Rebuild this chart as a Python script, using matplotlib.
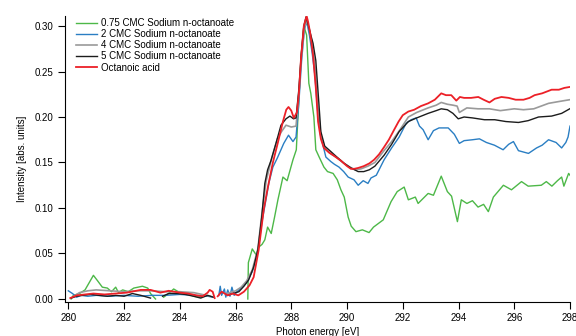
#!/usr/bin/env python3
"""
C K-edge NEXAFS of sodium n-octanoate solutions vs. octanoic acid.
Writes out.png.
"""

import numpy as np
import matplotlib.pyplot as plt

plt.rcParams["font.family"] = ["Liberation Sans", "DejaVu Sans"]
plt.rcParams["font.size"] = 7

nan = np.nan

# 0.75 CMC sodium n-octanoate
e_075 = [280.1, 280.18, 280.4, 280.6, 280.75, 280.9, 281.05, 281.22, 281.4, 281.55,
         281.7, 281.8, 281.95, 282.15, 282.35, 282.66, 282.85, 282.95, 283.13, nan,
         283.42, 283.6, 283.78, 284.0, 284.25, 284.5, 284.75, nan,
         286.44, 286.46, 286.6, 286.75, 286.83, 286.95, 287.05, 287.15, 287.28, 287.4,
         287.52, 287.7, 287.85, 288.06, 288.18, 288.27, 288.35, 288.45, 288.55, 288.63,
         288.7, 288.81, 288.88, 289.0, 289.17, 289.3, 289.5, 289.65, 289.78, 289.9,
         290.04, 290.15, 290.32, 290.55, 290.79, 290.95, 291.3, 291.58, 291.8, 292.05,
         292.2, 292.45, 292.55, 292.91, 293.1, 293.38, 293.6, 293.75, 293.96, 294.1,
         294.3, 294.5, 294.7, 294.9, 295.07, 295.25, 295.61, 295.9, 296.26, 296.5,
         296.97, 297.15, 297.35, 297.55, 297.7, 297.78, 297.95, 298.05]
i_075 = [0.000, 0.004, 0.006, 0.010, 0.018, 0.026, 0.020, 0.013, 0.012, 0.008,
         0.013, 0.007, 0.010, 0.008, 0.012, 0.014, 0.012, 0.006, 0.000, nan,
         0.002, 0.006, 0.011, 0.007, 0.006, 0.003, 0.002, nan,
         0.000, 0.040, 0.055, 0.048, 0.057, 0.060, 0.065, 0.079, 0.072, 0.090,
         0.109, 0.134, 0.130, 0.153, 0.164, 0.219, 0.265, 0.300, 0.290, 0.237,
         0.226, 0.200, 0.164, 0.156, 0.145, 0.140, 0.138, 0.131, 0.120, 0.112,
         0.090, 0.080, 0.074, 0.076, 0.073, 0.079, 0.087, 0.107, 0.118, 0.123,
         0.109, 0.112, 0.105, 0.116, 0.114, 0.135, 0.118, 0.113, 0.085, 0.109,
         0.105, 0.108, 0.101, 0.104, 0.096, 0.112, 0.125, 0.120, 0.129, 0.124,
         0.125, 0.129, 0.124, 0.130, 0.134, 0.124, 0.138, 0.134]

# 2 CMC sodium n-octanoate
e_2 = [280.0, 280.15, 280.3, 280.45, 280.7, 281.0, 281.5, 282.0, 282.5, 283.0,
       283.5, 284.0, 284.5, 285.0, 285.2, nan, 285.4, 285.45, 285.5, 285.6,
       285.65, 285.72, 285.8, 285.87, 285.95, 286.05, 286.2, 286.4, 286.6, 286.8,
       286.95, 287.09, 287.2, 287.34, 287.5, 287.73, 287.9, 288.06, 288.17, 288.27,
       288.37, 288.47, 288.55, 288.65, 288.75, 288.85, 288.95, 289.05, 289.24, 289.42,
       289.55, 289.71, 289.88, 290.04, 290.25, 290.4, 290.58, 290.75, 290.86, 291.05,
       291.33, 291.6, 291.87, 292.12, 292.3, 292.48, 292.6, 292.73, 292.91, 293.1,
       293.3, 293.63, 293.85, 294.03, 294.2, 294.5, 294.75, 295.0, 295.29, 295.6,
       295.8, 295.97, 296.15, 296.51, 296.8, 297.0, 297.23, 297.5, 297.7, 297.85,
       297.93, 298.0]
i_2 = [0.009, 0.006, 0.002, 0.004, 0.003, 0.004, 0.003, 0.004, 0.003, 0.004,
       0.004, 0.005, 0.004, 0.003, 0.002, nan, 0.004, 0.014, 0.004, 0.011,
       0.002, 0.010, 0.003, 0.013, 0.004, 0.008, 0.012, 0.018, 0.030, 0.052,
       0.085, 0.109, 0.128, 0.145, 0.155, 0.171, 0.180, 0.173, 0.178, 0.215,
       0.262, 0.296, 0.305, 0.290, 0.270, 0.245, 0.205, 0.180, 0.156, 0.151,
       0.148, 0.145, 0.140, 0.134, 0.131, 0.125, 0.130, 0.127, 0.133, 0.136,
       0.153, 0.166, 0.178, 0.193, 0.197, 0.199, 0.190, 0.186, 0.175, 0.185,
       0.188, 0.188, 0.181, 0.171, 0.174, 0.175, 0.176, 0.172, 0.169, 0.164,
       0.170, 0.173, 0.163, 0.160, 0.166, 0.169, 0.175, 0.172, 0.166, 0.172,
       0.178, 0.190]

# 4 CMC sodium n-octanoate
e_4 = [280.2, 280.4, 280.7, 281.0, 281.5, 282.0, 282.5, 283.0, 283.5, 284.0,
       284.5, 284.8, 285.1, nan, 285.7, 286.0, 286.2, 286.4, 286.6, 286.8,
       286.95, 287.1, 287.3, 287.5, 287.65, 287.81, 288.0, 288.17, 288.27, 288.37,
       288.47, 288.55, 288.65, 288.75, 288.85, 288.95, 289.06, 289.2, 289.4, 289.6,
       289.85, 290.1, 290.3, 290.5, 290.75, 291.0, 291.3, 291.6, 291.9, 292.2,
       292.5, 292.91, 293.2, 293.38, 293.6, 293.8, 293.95, 294.03, 294.3, 294.7,
       295.11, 295.5, 296.0, 296.33, 296.7, 297.23, 297.6, 297.99]
i_4 = [0.003, 0.007, 0.009, 0.010, 0.009, 0.008, 0.009, 0.009, 0.008, 0.008,
       0.007, 0.005, 0.003, nan, 0.006, 0.009, 0.013, 0.020, 0.032, 0.055,
       0.095, 0.130, 0.155, 0.176, 0.184, 0.191, 0.189, 0.190, 0.225, 0.268,
       0.298, 0.306, 0.296, 0.280, 0.255, 0.212, 0.180, 0.166, 0.160, 0.156,
       0.150, 0.145, 0.142, 0.143, 0.146, 0.150, 0.162, 0.173, 0.186, 0.200,
       0.205, 0.210, 0.213, 0.216, 0.214, 0.213, 0.212, 0.205, 0.210, 0.209,
       0.209, 0.207, 0.209, 0.208, 0.209, 0.215, 0.217, 0.219]

# 5 CMC sodium n-octanoate
e_5 = [280.1, 280.3, 280.5, 280.8, 281.1, 281.4, 281.7, 282.0, 282.3, 282.6,
       282.95, nan, 283.38, 283.6, 283.9, 284.2, 284.5, 284.75, 285.0, 285.2,
       nan, 285.72, 285.9, 286.12, 286.3, 286.47, 286.65, 286.8, 286.94, 287.05,
       287.15, 287.27, 287.45, 287.63, 287.81, 287.95, 288.08, 288.17, 288.27, 288.36,
       288.45, 288.53, 288.6, 288.7, 288.78, 288.88, 288.99, 289.06, 289.2, 289.42,
       289.6, 289.9, 290.14, 290.4, 290.6, 290.8, 291.0, 291.33, 291.6, 291.87,
       292.2, 292.5, 292.91, 293.2, 293.38, 293.6, 293.8, 293.99, 294.2, 294.5,
       294.93, 295.3, 295.7, 296.15, 296.5, 296.87, 297.34, 297.7, 297.99]
i_5 = [0.001, 0.003, 0.004, 0.005, 0.004, 0.003, 0.004, 0.003, 0.006, 0.004,
       0.001, nan, 0.003, 0.006, 0.006, 0.005, 0.003, 0.001, 0.004, 0.002,
       nan, 0.004, 0.006, 0.008, 0.014, 0.021, 0.035, 0.054, 0.090, 0.127,
       0.142, 0.152, 0.171, 0.191, 0.198, 0.201, 0.198, 0.199, 0.230, 0.270,
       0.300, 0.310, 0.302, 0.290, 0.281, 0.262, 0.215, 0.184, 0.168, 0.162,
       0.157, 0.149, 0.144, 0.140, 0.140, 0.142, 0.146, 0.158, 0.170, 0.184,
       0.195, 0.199, 0.204, 0.207, 0.209, 0.208, 0.204, 0.198, 0.200, 0.199,
       0.197, 0.197, 0.195, 0.194, 0.196, 0.200, 0.201, 0.204, 0.209]

# octanoic acid
e_acid = [280.07, 280.3, 280.6, 280.9, 281.3, 281.7, 282.1, 282.6, 282.95, 283.3,
          283.6, 284.0, 284.3, 284.6, 284.82, 285.0, 285.07, 285.18, 285.25, nan,
          285.36, 285.5, 285.72, 285.9, 286.1, 286.3, 286.5, 286.65, 286.83, 287.01,
          287.16, 287.34, 287.52, 287.7, 287.82, 287.9, 288.0, 288.09, 288.2, 288.27,
          288.35, 288.45, 288.55, 288.6, 288.68, 288.78, 288.88, 288.96, 289.06, 289.17,
          289.35, 289.55, 289.78, 290.0, 290.14, 290.25, 290.4, 290.6, 290.8, 290.97,
          291.15, 291.33, 291.5, 291.69, 291.85, 292.0, 292.2, 292.41, 292.65, 292.91,
          293.15, 293.38, 293.55, 293.74, 293.92, 294.05, 294.2, 294.45, 294.71, 294.9,
          295.11, 295.3, 295.54, 295.8, 296.05, 296.33, 296.55, 296.73, 297.0, 297.34,
          297.6, 297.8, 297.99]
i_acid = [0.001, 0.004, 0.005, 0.006, 0.005, 0.006, 0.007, 0.010, 0.010, 0.007,
          0.009, 0.007, 0.006, 0.004, 0.003, 0.007, 0.010, 0.008, 0.001, nan,
          0.003, 0.008, 0.004, 0.006, 0.004, 0.008, 0.015, 0.024, 0.054, 0.098,
          0.123, 0.150, 0.172, 0.195, 0.208, 0.211, 0.207, 0.199, 0.205, 0.225,
          0.265, 0.300, 0.311, 0.305, 0.292, 0.268, 0.232, 0.195, 0.176, 0.166,
          0.161, 0.157, 0.152, 0.146, 0.143, 0.143, 0.144, 0.146, 0.149, 0.153,
          0.159, 0.167, 0.175, 0.186, 0.195, 0.202, 0.206, 0.208, 0.212, 0.215,
          0.219, 0.226, 0.224, 0.224, 0.218, 0.222, 0.221, 0.221, 0.222, 0.219,
          0.216, 0.220, 0.222, 0.221, 0.219, 0.219, 0.221, 0.224, 0.226, 0.230,
          0.230, 0.232, 0.233]

SERIES = [
    (e_075, i_075, "0.75 CMC Sodium n-octanoate", "#4db848", 1.0),
    (e_2, i_2, "2 CMC Sodium n-octanoate", "#2a7ec3", 1.0),
    (e_4, i_4, "4 CMC Sodium n-octanoate", "#9a9a9a", 1.2),
    (e_5, i_5, "5 CMC Sodium n-octanoate", "#1c1c1c", 1.0),
    (e_acid, i_acid, "Octanoic acid", "#ec2027", 1.3),
]


def main():
    fig = plt.figure(figsize=(5.76, 3.36), dpi=100)
    ax = fig.add_axes([0.1128, 0.1012, 0.8768, 0.8512])

    for e, i, label, color, lw in SERIES:
        ax.plot(e, i, color=color, linewidth=lw, label=label)

    ax.set_xlim(279.88, 298)
    ax.set_ylim(-0.0033, 0.311)
    ax.set_xticks(np.arange(280, 299, 2))
    ax.set_yticks(np.arange(0, 0.31, 0.05))
    ax.yaxis.set_major_formatter(plt.FormatStrFormatter("%.2f"))
    ax.tick_params(direction="out", length=5, width=0.8, pad=3, labelsize=7)

    ax.spines["top"].set_visible(False)
    ax.spines["right"].set_visible(False)
    ax.spines["left"].set_linewidth(0.8)
    ax.spines["bottom"].set_linewidth(0.8)

    ax.set_xlabel("Photon energy [eV]", fontsize=7, labelpad=3)
    ax.set_ylabel("Intensity [abs. units]", fontsize=7, labelpad=6)

    ax.legend(loc="upper left", bbox_to_anchor=(0.012, 1.01), frameon=False,
              fontsize=7, handlelength=2.2, handletextpad=0.35,
              labelspacing=0.12, borderaxespad=0.1)

    fig.savefig("out.png", dpi=100)
    plt.close(fig)


if __name__ == "__main__":
    main()
